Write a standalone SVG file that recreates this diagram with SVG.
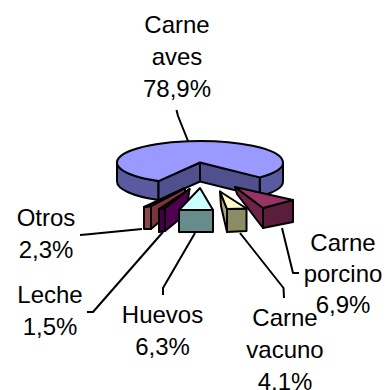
<svg xmlns="http://www.w3.org/2000/svg" width="386" height="390" viewBox="0 0 386 390">
<style>
.o{stroke:#000;stroke-width:2;stroke-linejoin:round}
.l{fill:none;stroke:#000;stroke-width:2;stroke-linejoin:round}
text{font-family:"Liberation Sans",Arial,sans-serif;font-size:24px;fill:#000;text-anchor:middle}
</style>
<rect width="386" height="390" fill="#fff"/>
<g id="slice-aves">
<path class="o" fill="#5A5AA0" d="M117,162.5 A83,21.5 0 0 0 158.5,181.1 L158.5,200.1 A83,21.5 0 0 1 117,181.5 Z"/>
<path class="o" fill="#5A5AA0" d="M259.7,177.4 A83,21.5 0 0 0 283,162.5 L283,181.5 A83,21.5 0 0 1 259.7,196.4 Z"/>
<path class="o" fill="#50508F" d="M200,162.5 L158.5,181.1 L158.5,200.1 L200,181.5 Z"/>
<path class="o" fill="#50508F" d="M200,162.5 L259.7,177.4 L259.7,196.4 L200,181.5 Z"/>
<path class="o" fill="#9999FF" d="M200,162.5 L158.5,181.1 A83,21.5 0 1 1 259.7,177.4 Z"/>
</g>
<g id="slice-otros">
<path class="o" fill="#7A3636" d="M185,188 L151,206 L151,229 L185,200 Z"/>
<path class="o" fill="#8C4646" d="M144,207 L151,206 L151,229 L144,229 Z"/>
<path class="o" fill="#FF8080" d="M185,188 L144,207 L151,206 Z"/>
</g>
<g id="slice-leche">
<path class="o" fill="#500050" d="M189.5,189 L165,208 L165,231 L186,214 Z"/>
<path class="o" fill="#420042" d="M159,209 L165,208 L165,231 L159,232 Z"/>
<path class="o" fill="#660066" d="M189.5,189 L159,209 L165,208 Z"/>
</g>
<g id="slice-huevos">
<path class="o" fill="#668C8C" d="M179,210 L213,210 L213,232 L179,232 Z"/>
<path class="o" fill="#CCFFFF" d="M200,188 L179,210 L213,210 Z"/>
</g>
<g id="slice-vacuno">
<path class="o" fill="#A8A87A" d="M220,191.5 L227,209 L227,232 L221,206 Z"/>
<path class="o" fill="#8C8C64" d="M227,209 L246.5,208.5 L246.5,231 L227,232 Z"/>
<path class="o" fill="#FFFFCC" d="M220,191.5 L227,209 L246.5,208.5 Z"/>
</g>
<g id="slice-porcino">
<path class="o" fill="#6E2448" d="M235,187 L263,208 L263,228 L237,194 Z"/>
<path class="o" fill="#5A1E3C" d="M263,208 L293,200 L293,222 L263,228 Z"/>
<path class="o" fill="#993366" d="M235,187 L263,208 L293,200 Z"/>
</g>
<g id="connectors">
<polyline class="l" points="176.5,110 178,116 188,141"/>
<polyline class="l" points="80,235 86,234.5 142,229"/>
<polyline class="l" points="87,312 93,312 163,232"/>
<polyline class="l" points="163,295 163,288 195,233"/>
<polyline class="l" points="240,233 283.5,288 284,298"/>
<polyline class="l" points="282,228 293,273 299,273"/>
</g>
<g id="labels">
<text x="177" y="33">Carne</text>
<text x="177" y="65">aves</text>
<text x="177" y="97">78,9%</text>
<text x="46" y="226">Otros</text>
<text x="46" y="258">2,3%</text>
<text x="50" y="303">Leche</text>
<text x="50" y="335">1,5%</text>
<text x="162.5" y="323">Huevos</text>
<text x="162.5" y="355">6,3%</text>
<text x="285" y="326">Carne</text>
<text x="285" y="358">vacuno</text>
<text x="285" y="390">4,1%</text>
<text x="343" y="250.5">Carne</text>
<text x="343" y="281.5">porcino</text>
<text x="343" y="313">6,9%</text>
</g>
</svg>
